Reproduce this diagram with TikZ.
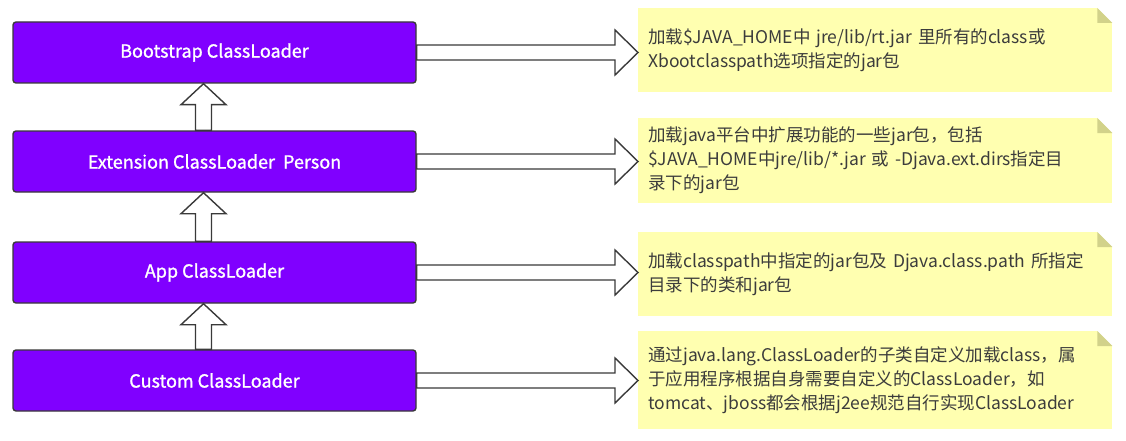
\documentclass[tikz,border=0pt]{standalone}
\usepackage{fontspec}
\setmainfont{Noto Sans CJK SC}
\newfontfamily\loaderfont[FakeBold=1.2]{Noto Sans CJK SC}
\usetikzlibrary{calc}
\definecolor{boxpurple}{HTML}{8000FF}
\definecolor{edgegray}{HTML}{3A3A3A}
\definecolor{notefill}{HTML}{FFFFB0}
\definecolor{foldfill}{HTML}{D2D28A}
\definecolor{notetext}{HTML}{3C3C3C}
\tikzset{
  loaderbox/.style={draw=edgegray, line width=1.4pt, fill=boxpurple, rounded corners=3pt,
    minimum width=403pt, minimum height=61pt, inner sep=0pt, text=white,
    font=\loaderfont\fontsize{18}{20}\selectfont},
  notebox/.style={fill=notefill, anchor=north west, inner xsep=10pt, inner ysep=0pt,
    align=left, text=notetext, font=\fontsize{17.5}{24}\selectfont},
  blockarrow/.style={draw=edgegray, fill=white, line width=1.4pt, line join=miter},
  foldtri/.style={fill=foldfill},
}
\newcommand{\upblock}[2]{%
  \coordinate (ut) at ($(#1.south)+(-11,0)$);
  \coordinate (us) at ($(#2.north)+(-11,0)$);
  \draw[blockarrow] (ut) -- ($(ut)+(22.5,21)$) -- ($(ut)+(8,21)$) -- ($(us)+(8,0)$)
    -- ($(us)+(-8,0)$) -- ($(ut)+(-8,21)$) -- ($(ut)+(-22.5,21)$) -- cycle;}
\newcommand{\rightblock}[2]{%
  \coordinate (rs) at (#1.east);
  \coordinate (rt) at (#2.west |- #1.east);
  \draw[blockarrow] ($(rs)+(0,-7.5)$) -- ($(rt)+(-23,-7.5)$) -- ($(rt)+(-23,-22.5)$) -- (rt)
    -- ($(rt)+(-23,22.5)$) -- ($(rt)+(-23,7.5)$) -- ($(rs)+(0,7.5)$) -- cycle;}
\newcommand{\notefold}[1]{%
  \fill[white] (#1.north east) -- ($(#1.north east)+(-15,0)$) -- ($(#1.north east)+(0,15)$) -- cycle;
  \fill[foldtri] ($(#1.north east)+(-15,0)$) -- ($(#1.north east)+(-15,15)$) -- ($(#1.north east)+(0,15)$) -- cycle;}
\begin{document}
\begin{tikzpicture}[x=1pt,y=-1pt]
\useasboundingbox[fill=white] (0,0) rectangle (1126,441);

\node[loaderbox] (b1) at (214.5,52.5) {Bootstrap ClassLoader};
\node[loaderbox] (b2) at (214.5,161.5) {Extension ClassLoader\ \ Person};
\node[loaderbox] (b3) at (214.5,272.5) {App ClassLoader};
\node[loaderbox] (b4) at (214.5,380.5) {Custom ClassLoader};

\node[notebox, text width=454pt, minimum height=84pt] (n1) at (638,8)
  {加载\$JAVA\_HOME中 jre/lib/rt.jar 里所有的class或\\Xbootclasspath选项指定的jar包};
\node[notebox, text width=454pt, minimum height=85pt] (n2) at (638,118)
  {加载java平台中扩展功能的一些jar包，包括\\\$JAVA\_HOME中jre/lib/*.jar 或 -Djava.ext.dirs指定目\\录下的jar包};
\node[notebox, text width=454pt, minimum height=84pt] (n3) at (638,232)
  {加载classpath中指定的jar包及 Djava.class.path 所指定\\目录下的类和jar包};
\node[notebox, text width=454pt, minimum height=98pt] (n4) at (638,331)
  {通过java.lang.ClassLoader的子类自定义加载class，属\\于应用程序根据自身需要自定义的ClassLoader，如\\tomcat、jboss都会根据j2ee规范自行实现ClassLoader};

\notefold{n1}
\notefold{n2}
\notefold{n3}
\notefold{n4}

\upblock{b1}{b2}
\upblock{b2}{b3}
\upblock{b3}{b4}

\rightblock{b1}{n1}
\rightblock{b2}{n2}
\rightblock{b3}{n3}
\rightblock{b4}{n4}
\end{tikzpicture}
\end{document}
